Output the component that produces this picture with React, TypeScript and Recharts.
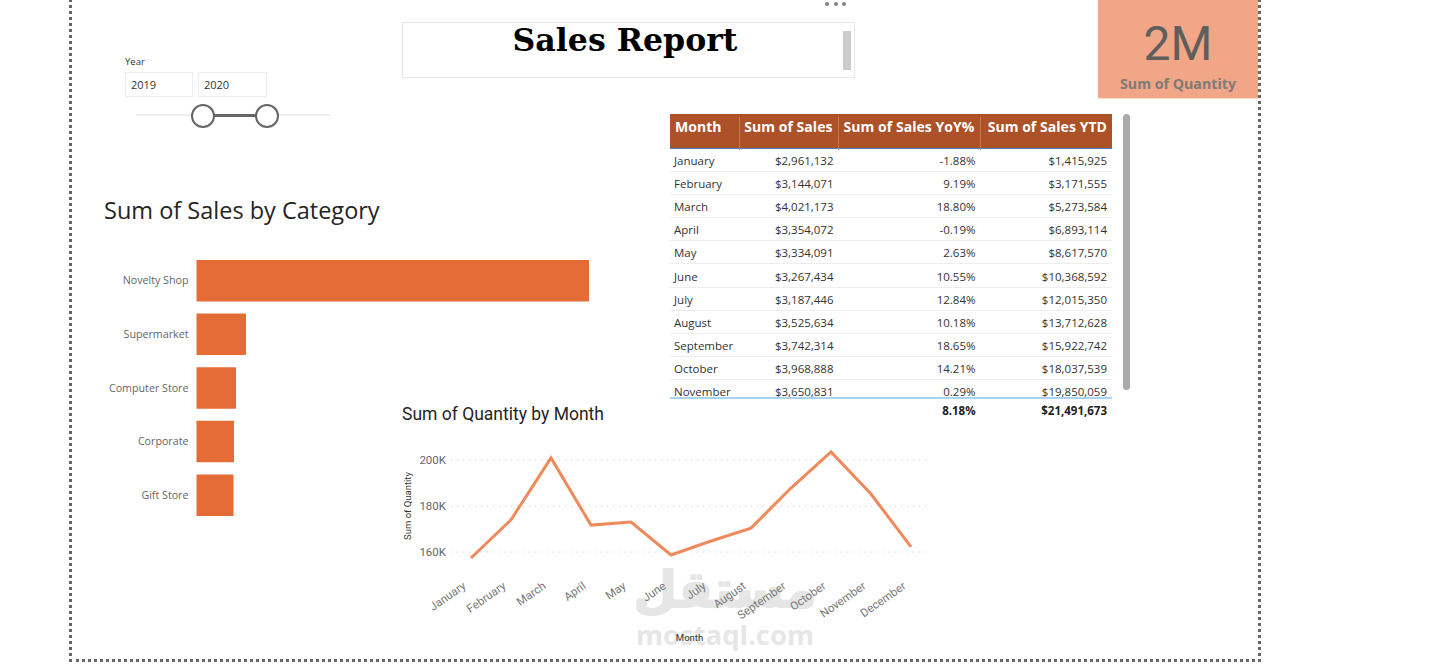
import { Bar, BarChart, CartesianGrid, Line, LineChart, XAxis, YAxis } from "recharts";

const categories = ["Novelty Shop", "Supermarket", "Computer Store", "Corporate", "Gift Store"];
const categorySales = [31.4, 3.96, 3.16, 3.0, 2.96];

const months = ["January", "February", "March", "April", "May", "June", "July", "August", "September", "October", "November", "December"];
const quantity = [157.4, 174, 200.9, 171.7, 173, 158.7, 164.8, 170.4, 187.8, 203.5, 185.2, 162.2];
const quantityTicks = [160, 180, 200];

const tableMonths = months.slice(0, 11);
const sales = ["$2,961,132", "$3,144,071", "$4,021,173", "$3,354,072", "$3,334,091", "$3,267,434", "$3,187,446", "$3,525,634", "$3,742,314", "$3,968,888", "$3,650,831"];
const yoy = ["-1.88%", "9.19%", "18.80%", "-0.19%", "2.63%", "10.55%", "12.84%", "10.18%", "18.65%", "14.21%", "0.29%"];
const ytd = ["$1,415,925", "$3,171,555", "$5,273,584", "$6,893,114", "$8,617,570", "$10,368,592", "$12,015,350", "$13,712,628", "$15,922,742", "$18,037,539", "$19,850,059"];
const headers = ["Month", "Sum of Sales", "Sum of Sales YoY%", "Sum of Sales YTD"];
const totals = ["", "", "8.18%", "$21,491,673"];

const barData = categories.map((name, i) => ({ name, value: categorySales[i] }));
const lineData = months.map((month, i) => ({ month, value: quantity[i] }));

const SEGOE = "'Open Sans', 'Noto Sans', sans-serif";
const DIN = "Roboto, sans-serif";

// Column edges of the matrix visual, left to right.
const COLS = [0, 69.5, 168.5, 310.5, 442];
const ROW_H = 23.1;

function cell(text: string, col: number, style: React.CSSProperties = {}) {
  return (
    <div
      key={col}
      style={{
        position: "absolute",
        left: COLS[col],
        width: COLS[col + 1] - COLS[col],
        boxSizing: "border-box",
        padding: col === 0 ? "0 0 0 4px" : "0 5px 0 0",
        textAlign: col === 0 ? "left" : "right",
        whiteSpace: "nowrap",
        ...style,
      }}
    >
      {text}
    </div>
  );
}

function Box({ style, children }: { style: React.CSSProperties; children?: React.ReactNode }) {
  return <div style={{ position: "absolute", boxSizing: "border-box", ...style }}>{children}</div>;
}

// Recharts wraps long category names, the reference keeps them on one line.
function CategoryTick({ x, y, payload }: { x: number; y: number; payload: { value: string } }) {
  return (
    <text x={x} y={y} dy={3.5} textAnchor="end" fill="#666" fontSize={10.7} fontFamily={SEGOE}>
      {payload.value}
    </text>
  );
}

function Slicer() {
  const input: React.CSSProperties = { top: 72, height: 25, border: "1px solid #eee", fontSize: 11, color: "#333", padding: "4px 0 0 5px" };
  const handle: React.CSSProperties = { top: 104, width: 24, height: 24, borderRadius: "50%", border: "2px solid #666", background: "#fff" };
  return (
    <>
      <Box style={{ left: 125, top: 55, fontSize: 9.5, color: "#333" }}>Year</Box>
      <Box style={{ ...input, left: 125, width: 68 }}>2019</Box>
      <Box style={{ ...input, left: 198, width: 69 }}>2020</Box>
      <Box style={{ left: 136, top: 114, width: 194, height: 2, background: "#eee" }} />
      <Box style={{ left: 203, top: 114, width: 64, height: 3, background: "#666" }} />
      <Box style={{ ...handle, left: 191 }} />
      <Box style={{ ...handle, left: 255 }} />
    </>
  );
}

function SalesTable() {
  return (
    <Box style={{ left: 670, top: 114, width: 442, height: 310, fontFamily: SEGOE, fontSize: 11.5, color: "#333" }}>
      <Box style={{ left: 0, top: 0, width: 442, height: 35, background: "#AD5129", borderBottom: "1.5px solid #4A7FC0" }}>
        {headers.map((h, i) =>
          cell(h, i, {
            top: 3,
            fontSize: 14,
            fontWeight: 700,
            color: "#fff",
            padding: i === 0 ? "0 0 0 5px" : "0 5px 0 0",
            height: 33,
            letterSpacing: 0.05,
            borderRight: i < 3 ? "1px solid #C77A50" : undefined,
          })
        )}
      </Box>
      <Box style={{ left: 0, top: 35, width: 442, height: 248, overflow: "hidden" }}>
        {tableMonths.map((m, i) => (
          <Box key={m} style={{ left: 0, top: i * ROW_H, width: 442, height: ROW_H, borderBottom: "1px solid #eee", lineHeight: `${ROW_H}px` }}>
            {cell(m, 0)}
            {cell(sales[i], 1)}
            {cell(yoy[i], 2)}
            {cell(ytd[i], 3)}
          </Box>
        ))}
      </Box>
      <Box style={{ left: 0, top: 283, width: 442, height: 2, background: "#A9D3F2" }} />
      <Box style={{ left: 0, top: 289, width: 442, height: 18, fontWeight: 700, color: "#222" }}>
        {totals.map((t, i) => cell(t, i))}
      </Box>
    </Box>
  );
}

function Watermark() {
  return (
    <>
      <Box style={{ left: 625, top: 550, width: 200, textAlign: "center", fontFamily: "'DejaVu Sans', sans-serif", fontWeight: 700, fontSize: 50, color: "#e6e6e6", lineHeight: "80px", WebkitTextStroke: "2px #e6e6e6" }}>
        مستقل
      </Box>
      <Box style={{ left: 625, top: 616, width: 200, textAlign: "center", fontFamily: "'Open Sans', sans-serif", fontWeight: 700, fontSize: 27.5, color: "#e6e6e6", lineHeight: "38px" }}>
        mostaql.com
      </Box>
    </>
  );
}

export default function App() {
  return (
    <div style={{ position: "absolute", left: 0, top: 0, width: 1452, height: 664, overflow: "hidden", background: "#fff", fontFamily: SEGOE }}>
      {/* dotted page frame, open at the top */}
      <Box style={{ left: 69, top: -6, width: 1192, height: 668, border: "3px dotted #666" }} />

      <Box style={{ left: 402, top: 22, width: 453, height: 56, border: "1px solid #e8e8e8" }} />
      <Box style={{ left: 402, top: 17, width: 446, textAlign: "center", fontFamily: "'DejaVu Serif', serif", fontWeight: 700, fontSize: 31.6, color: "#000", lineHeight: "46px", whiteSpace: "nowrap" }}>
        Sales Report
      </Box>
      <Box style={{ left: 843, top: 31, width: 8, height: 39, background: "#ccc" }} />
      {[825, 834, 842].map((x) => (
        <Box key={x} style={{ left: x, top: 2, width: 4, height: 4, borderRadius: "50%", background: "#808080" }} />
      ))}

      <Slicer />

      <Box style={{ left: 1098, top: 0, width: 160, height: 99, background: "#F0A687", borderBottom: "1px solid #F9DCCF" }}>
        <Box style={{ left: 0, top: 12, width: 160, textAlign: "center", fontSize: 48, lineHeight: "64px", color: "#605E5C", fontFamily: DIN }}>2M</Box>
        <Box style={{ left: 0, top: 73, width: 160, textAlign: "center", fontSize: 14.2, lineHeight: "22px", fontWeight: 700, color: "#7F7A76" }}>Sum of Quantity</Box>
      </Box>

      <Box style={{ left: 104, top: 192, fontSize: 23.5, lineHeight: "36px", color: "#252423", whiteSpace: "nowrap" }}>Sum of Sales by Category</Box>
      <Box style={{ left: 100, top: 254 }}>
        <BarChart width={496.5} height={268} data={barData} layout="vertical" margin={{ top: 0, right: 0, bottom: 0, left: 0 }}>
          <XAxis type="number" hide domain={[0, 32]} />
          <YAxis
            type="category"
            dataKey="name"
            width={96.5}
            interval={0}
            axisLine={false}
            tickLine={false}
            tickSize={0}
            tickMargin={8}
            tick={CategoryTick}
          />
          <Bar dataKey="value" fill="#E66C37" barSize={41.5} isAnimationActive={false} />
        </BarChart>
      </Box>

      <SalesTable />
      <Box style={{ left: 1123, top: 114, width: 7, height: 276, borderRadius: 4, background: "#aaa" }} />

      <Watermark />

      <Box style={{ left: 402, top: 402, fontFamily: DIN, fontSize: 17.5, lineHeight: "24px", color: "#252423", whiteSpace: "nowrap" }}>Sum of Quantity by Month</Box>
      <Box style={{ left: 395, top: 425 }}>
        <LineChart width={540} height={225} data={lineData} margin={{ top: 12, right: 7, bottom: 0, left: 0 }}>
          <CartesianGrid vertical={false} stroke="#c8c8c8" strokeDasharray="1 5" horizontalValues={quantityTicks} />
          <XAxis
            dataKey="month"
            interval={0}
            height={75}
            padding={{ left: 20, right: 17 }}
            axisLine={false}
            tickLine={false}
            angle={-35}
            textAnchor="end"
            tick={{ fill: "#777", fontSize: 11.5, fontFamily: DIN, dx: -9, dy: -2 }}
            label={{ value: "Month", position: "insideBottom", offset: 9, fill: "#333", fontSize: 9.5, fontFamily: DIN }}
          />
          <YAxis
            domain={[150, 210]}
            ticks={quantityTicks}
            width={56}
            axisLine={false}
            tickLine={false}
            tickSize={0}
            tickMargin={5}
            tickFormatter={(v: number) => `${v}K`}
            tick={{ fill: "#666", fontSize: 11.5, fontFamily: DIN }}
            label={{ value: "Sum of Quantity", angle: -90, position: "insideLeft", offset: 13, fill: "#333", fontSize: 9.5, fontFamily: DIN, style: { textAnchor: "middle" } }}
          />
          <Line dataKey="value" stroke="#EE8A5C" strokeWidth={3} dot={false} type="linear" isAnimationActive={false} />
        </LineChart>
      </Box>
    </div>
  );
}
